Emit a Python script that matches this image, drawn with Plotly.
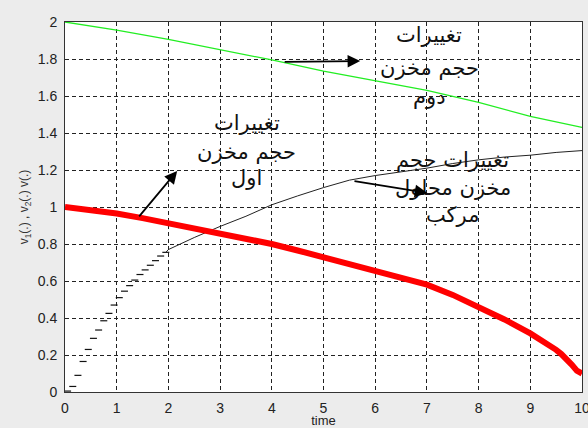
import plotly.graph_objects as go

# Tank volume histories over time
t_main = [0, 0.5, 1, 1.5, 2, 2.5, 3, 3.5, 4, 4.5, 5, 5.5, 6, 6.5, 7, 7.5, 8,
          8.5, 9, 9.25, 9.5, 9.6, 9.7, 9.8, 9.9, 10]
v1 = [1.0, 0.985, 0.965, 0.94, 0.912, 0.89, 0.862, 0.832, 0.8, 0.765, 0.728,
      0.688, 0.652, 0.617, 0.58, 0.525, 0.46, 0.392, 0.317, 0.275, 0.228,
      0.205, 0.18, 0.148, 0.115, 0.1]

t_v2 = [0, 1, 2, 3, 4, 5, 5.5, 6, 7, 8, 9, 10]
v2 = [2.0, 1.956, 1.906, 1.852, 1.795, 1.735, 1.708, 1.68, 1.63, 1.565,
      1.49, 1.43]

# mixed tank: sampled steps early on, then the slow rise
t_mix_steps = [0.05, 0.15, 0.25, 0.35, 0.45, 0.55, 0.65, 0.75, 0.85, 0.95,
               1.05, 1.15, 1.25, 1.35, 1.45, 1.55, 1.65, 1.75, 1.85, 1.95]
v_mix_steps = [0.005, 0.03, 0.09, 0.165, 0.23, 0.29, 0.335, 0.385, 0.425, 0.47,
               0.51, 0.545, 0.575, 0.605, 0.635, 0.66, 0.685, 0.71, 0.735, 0.755]
t_mix = [1.95, 2, 2.5, 3, 3.5, 4, 4.5, 5, 5.5, 6, 6.5, 7, 7.5, 8, 8.5, 9,
         9.5, 10]
v_mix = [0.755, 0.77, 0.835, 0.895, 0.95, 1.012, 1.06, 1.105, 1.145, 1.17,
         1.19, 1.21, 1.235, 1.255, 1.27, 1.28, 1.295, 1.305]

x_ticks = list(range(0, 11))
y_ticks = [0, 0.2, 0.4, 0.6, 0.8, 1, 1.2, 1.4, 1.6, 1.8, 2]
y_tick_text = ["0", "0.2", "0.4", "0.6", "0.8", "1", "1.2", "1.4", "1.6",
               "1.8", "2"]

label_tank2 = ["تغییرات", "حجم مخزن", "دوم"]
label_tank1 = ["تغییرات", "حجم مخزن", "اول"]
label_mix = ["تغییرات حجم", "مخزن محلول", "مرکب"]

fig = go.Figure()

fig.add_trace(go.Scatter(x=t_v2, y=v2, mode="lines",
                         line=dict(color="#22ee22", width=1.3),
                         showlegend=False))
fig.add_trace(go.Scatter(x=t_mix_steps, y=v_mix_steps, mode="markers",
                         marker=dict(symbol="line-ew", size=5,
                                     line=dict(color="#111", width=1.2)),
                         showlegend=False))
fig.add_trace(go.Scatter(x=t_mix, y=v_mix, mode="lines",
                         line=dict(color="#222", width=1),
                         showlegend=False))
fig.add_trace(go.Scatter(x=t_main, y=v1, mode="lines",
                         line=dict(color="#ff0000", width=6),
                         showlegend=False))

ann_font = dict(family="DejaVu Sans", size=21, color="#111")


def add_label(lines, x, ys):
    for txt, y in zip(lines, ys):
        fig.add_annotation(x=x, y=y, xref="x", yref="y", text=txt,
                           showarrow=False, font=ann_font,
                           xanchor="center", yanchor="middle")


add_label(label_tank2, 7.05, [1.93, 1.751, 1.595])
add_label(label_tank1, 3.52, [1.454, 1.297, 1.157])
add_label(label_mix, 7.5, [1.254, 1.103, 0.957])


def add_arrow(x0, y0, x1, y1):
    fig.add_annotation(x=x1, y=y1, ax=x0, ay=y0, xref="x", yref="y",
                       axref="x", ayref="y", text="", showarrow=True,
                       arrowhead=2, arrowsize=1.4, arrowwidth=1.8,
                       arrowcolor="#000")


add_arrow(4.22, 1.784, 5.71, 1.789)
add_arrow(1.41, 0.941, 2.17, 1.195)
add_arrow(5.57, 1.141, 7.01, 1.076)

axis_common = dict(showgrid=True, gridcolor="#222", gridwidth=1,
                   griddash="4px,3px", showline=True, linecolor="#333",
                   linewidth=1, mirror=True, zeroline=False, ticks="",
                   automargin=False, ticklabeloverflow="allow",
                   tickfont=dict(family="Liberation Sans", size=14,
                                 color="#222"))

fig.update_xaxes(range=[0, 10], tickvals=x_ticks, ticklabelstandoff=3,
                 title=dict(text="time", standoff=3,
                            font=dict(family="Liberation Sans", size=13,
                                      color="#222")),
                 **axis_common)
fig.update_yaxes(range=[0, 2], tickvals=y_ticks, ticktext=y_tick_text,
                 ticklabelstandoff=4,
                 title=dict(text="v<sub>1</sub>(.) , v<sub>2</sub>(.) v(.)",
                            standoff=6,
                            font=dict(family="Liberation Sans", size=12,
                                      color="#333")),
                 **axis_common)

fig.update_layout(width=588, height=428,
                  margin=dict(l=65, r=6, t=22, b=36, autoexpand=False),
                  paper_bgcolor="#ececec", plot_bgcolor="#ffffff")

fig.write_html("out.html")
